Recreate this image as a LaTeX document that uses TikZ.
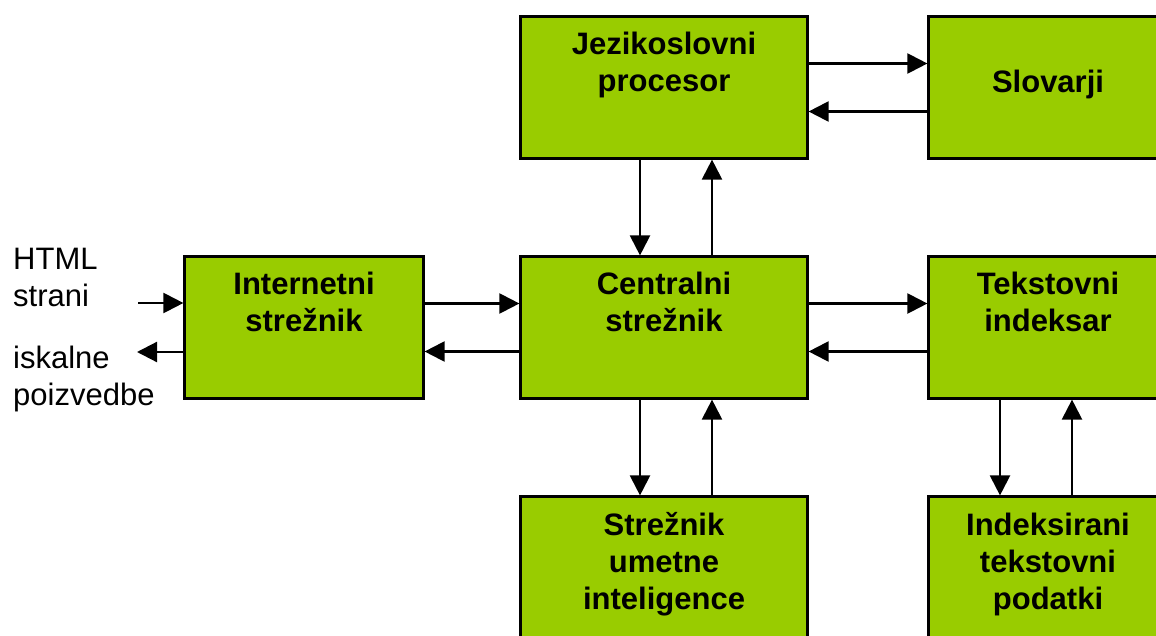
\documentclass[tikz,border=0pt]{standalone}
\usepackage{fontspec}
\setmainfont{Liberation Sans}
\usetikzlibrary{arrows.meta}
\definecolor{boxgreen}{RGB}{153,204,0}
\begin{document}
\begin{tikzpicture}[x=1pt,y=-1pt,
  box/.style={draw=black,fill=boxgreen,line width=2.2pt,rectangle,inner sep=0pt,
    minimum width=287pt,minimum height=142pt},
  narrowbox/.style={box,minimum width=239pt},
  boxtext/.style={anchor=north,inner sep=0pt,align=center,
    font=\fontsize{31}{37}\selectfont\bfseries},
  sidetext/.style={anchor=north west,inner sep=0pt,align=left,
    font=\fontsize{31}{37}\selectfont},
  link/.style={line width=2.2pt,-{Triangle[length=20pt,width=20pt]}}]
\useasboundingbox (0,0) rectangle (1156,635);
\clip (0,0) rectangle (1156,635);

% boxes
\node[box] (jez) at (664,87.5) {};
\node[narrowbox] (slo) at (1048,87.5) {};
\node[narrowbox] (int) at (304,327.5) {};
\node[box] (cen) at (664,327.5) {};
\node[narrowbox] (tek) at (1048,327.5) {};
\node[box] (umi) at (664,567.5) {};
\node[narrowbox] (idx) at (1048,567.5) {};

% box labels
\node[boxtext] (tjez) at ([yshift=-13pt]jez.north) {\strut Jezikoslovni\\procesor};
\node[boxtext] (tslo) at ([yshift=-51pt]slo.north) {\strut Slovarji};
\node[boxtext] (tint) at ([yshift=-13pt]int.north) {\strut Internetni\\strežnik};
\node[boxtext] (tcen) at ([yshift=-13pt]cen.north) {\strut Centralni\\strežnik};
\node[boxtext] (ttek) at ([yshift=-13pt]tek.north) {\strut Tekstovni\\indeksar};
\node[boxtext] (tumi) at ([yshift=-14pt]umi.north) {\strut Strežnik\\umetne\\inteligence};
\node[boxtext] (tidx) at ([yshift=-14pt]idx.north) {\strut Indeksirani\\tekstovni\\podatki};

% outside labels
\node[sidetext] (html) at (13,243) {\strut HTML\\strani};
\node[sidetext] (isk) at (13,342) {\strut iskalne\\poizvedbe};
\coordinate (inpt) at (138,303);
\coordinate (outpt) at (137,352);

% connectors
\draw[link] ([yshift=24pt]jez.east) -- ([yshift=24pt]slo.west);
\draw[link] ([yshift=-24pt]slo.west) -- ([yshift=-24pt]jez.east);

\draw[link] ([xshift=-24pt]jez.south) -- ([xshift=-24pt]cen.north);
\draw[link] ([xshift=48pt]cen.north) -- ([xshift=48pt]jez.south);

\draw[link] (inpt) -- (inpt -| int.west);
\draw[link] (outpt -| int.west) -- (outpt);

\draw[link] ([yshift=24pt]int.east) -- ([yshift=24pt]cen.west);
\draw[link] ([yshift=-24pt]cen.west) -- ([yshift=-24pt]int.east);

\draw[link] ([yshift=24pt]cen.east) -- ([yshift=24pt]tek.west);
\draw[link] ([yshift=-24pt]tek.west) -- ([yshift=-24pt]cen.east);

\draw[link] ([xshift=-24pt]cen.south) -- ([xshift=-24pt]umi.north);
\draw[link] ([xshift=48pt]umi.north) -- ([xshift=48pt]cen.south);

\draw[link] ([xshift=-48pt]tek.south) -- ([xshift=-48pt]idx.north);
\draw[link] ([xshift=24pt]idx.north) -- ([xshift=24pt]tek.south);
\end{tikzpicture}
\end{document}
